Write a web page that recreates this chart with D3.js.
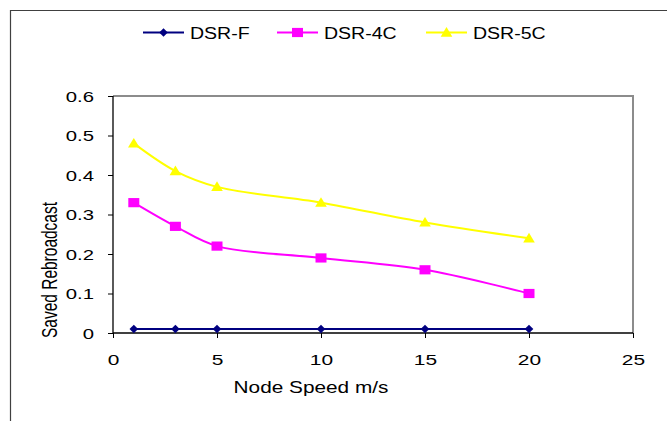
<!DOCTYPE html>
<html>
<head>
<meta charset="utf-8">
<script src="https://cdn.jsdelivr.net/npm/d3@7"></script>
<style>
  body { margin: 0; background: #fff; }
  text { font-family: "Liberation Sans", Arial, sans-serif; fill: #000; }
</style>
</head>
<body>
<div id="chart"></div>
<script>
// node speed (m/s)
const speeds = [1, 3, 5, 10, 15, 20];
const dsrF = [0.01, 0.01, 0.01, 0.01, 0.01, 0.01];
const dsr4C = [0.33, 0.27, 0.22, 0.19, 0.16, 0.10];
const dsr5C = [0.48, 0.41, 0.37, 0.33, 0.28, 0.24];
const seriesNames = ['DSR-F', 'DSR-4C', 'DSR-5C'];
const xTicks = [0, 5, 10, 15, 20, 25];
const yTicks = [0, 0.1, 0.2, 0.3, 0.4, 0.5, 0.6];

// marker shapes (unit size, scaled later)
const diamond = 'M0,-4.2L4.3,0L0,4.2L-4.3,0Z';
const square = 'M-5.5,-4.6H5.5V4.6H-5.5Z';
const triangle = 'M0,-5.5L5.8,4.2H-5.8Z';

const series = [
  { name: seriesNames[0], values: dsrF, color: '#000080', marker: diamond },
  { name: seriesNames[1], values: dsr4C, color: '#ff00ff', marker: square },
  { name: seriesNames[2], values: dsr5C, color: '#ffff00', marker: triangle }
];

const W = 667, H = 421;
const margin = { top: 96, right: 34, bottom: 88, left: 113 },
  width = W - margin.left - margin.right,
  height = H - margin.top - margin.bottom;

const svg = d3.select('#chart').append('svg')
  .attr('width', W)
  .attr('height', H);

// outer chart border (left and top)
svg.append('path')
  .attr('d', 'M10.5,' + H + 'V10.5H' + W)
  .attr('fill', 'none')
  .attr('stroke', '#404040')
  .attr('stroke-width', 1.2);

const g = svg.append('g')
  .attr('transform', 'translate(' + margin.left + ',' + margin.top + ')');

const x = d3.scaleLinear().domain([0, 25]).range([0, width]);
const y = d3.scaleLinear().domain([0, 0.6]).range([height, 0]);

// plot frame top + right (grey)
g.append('path')
  .attr('d', 'M0,0H' + width + 'V' + height)
  .attr('fill', 'none')
  .attr('stroke', '#8c8c8c')
  .attr('stroke-width', 2);

const xAxis = d3.axisBottom(x).tickValues(xTicks).tickSize(5).tickFormat(d3.format('d'));
const yAxis = d3.axisLeft(y).tickValues(yTicks).tickSize(5).tickFormat(d => d === 0 ? '0' : d3.format('.1f')(d));

g.append('g')
  .attr('transform', 'translate(0,' + height + ')')
  .call(xAxis)
  .call(a => a.select('.domain').attr('d', 'M0,0H' + width).attr('stroke', '#000').attr('stroke-width', 1.3))
  .call(a => a.selectAll('.tick line').attr('stroke', '#000'))
  .call(a => a.selectAll('text')
    .attr('y', 0).attr('dy', 0)
    .attr('transform', 'translate(0,32) scale(1.35,1)')
    .attr('font-size', 15.5)
    .attr('font-family', '"Liberation Sans", Arial, sans-serif'));

g.append('g')
  .call(yAxis)
  .call(a => a.select('.domain').attr('d', 'M0,0V' + height).attr('stroke', '#000').attr('stroke-width', 1.3))
  .call(a => a.selectAll('.tick line').attr('stroke', '#000'))
  .call(a => a.selectAll('text')
    .attr('x', 0).attr('dy', '0.35em')
    .attr('transform', 'translate(-19,0) scale(1.4,1)')
    .attr('font-size', 14.5)
    .attr('font-family', '"Liberation Sans", Arial, sans-serif'));

// axis titles
svg.append('text')
  .attr('transform', 'translate(311,393) scale(1.3,1)')
  .attr('text-anchor', 'middle')
  .attr('font-size', 16)
  .text('Node Speed m/s');

svg.append('text')
  .attr('transform', 'translate(57,270) scale(1.4,1) rotate(-90)')
  .attr('text-anchor', 'middle')
  .attr('font-size', 15.5)
  .text('Saved Rebroadcast');

const line = d3.line()
  .x((d, i) => x(speeds[i]))
  .y(d => y(d))
  .curve(d3.curveCatmullRom.alpha(0.5));

series.forEach(s => {
  g.append('path')
    .attr('d', line(s.values))
    .attr('fill', 'none')
    .attr('stroke', s.color)
    .attr('stroke-width', 2);

  g.selectAll(null)
    .data(s.values)
    .enter()
    .append('path')
    .attr('transform', (d, i) => 'translate(' + x(speeds[i]) + ',' + y(d) + ')')
    .attr('d', s.marker)
    .attr('fill', s.color);
});

// legend
const legendX = [143, 277, 426];
const legend = svg.append('g').attr('transform', 'translate(0,32.5)');
series.forEach((s, i) => {
  const lg = legend.append('g').attr('transform', 'translate(' + legendX[i] + ',0)');
  lg.append('line')
    .attr('x1', 0).attr('x2', 41)
    .attr('stroke', s.color).attr('stroke-width', 2);
  lg.append('path')
    .attr('transform', 'translate(20.5,0)')
    .attr('d', s.marker)
    .attr('fill', s.color);
  lg.append('text')
    .attr('transform', 'translate(47,6.5) scale(1.15,1)')
    .attr('font-size', 17)
    .text(s.name);
});
</script>
</body>
</html>
